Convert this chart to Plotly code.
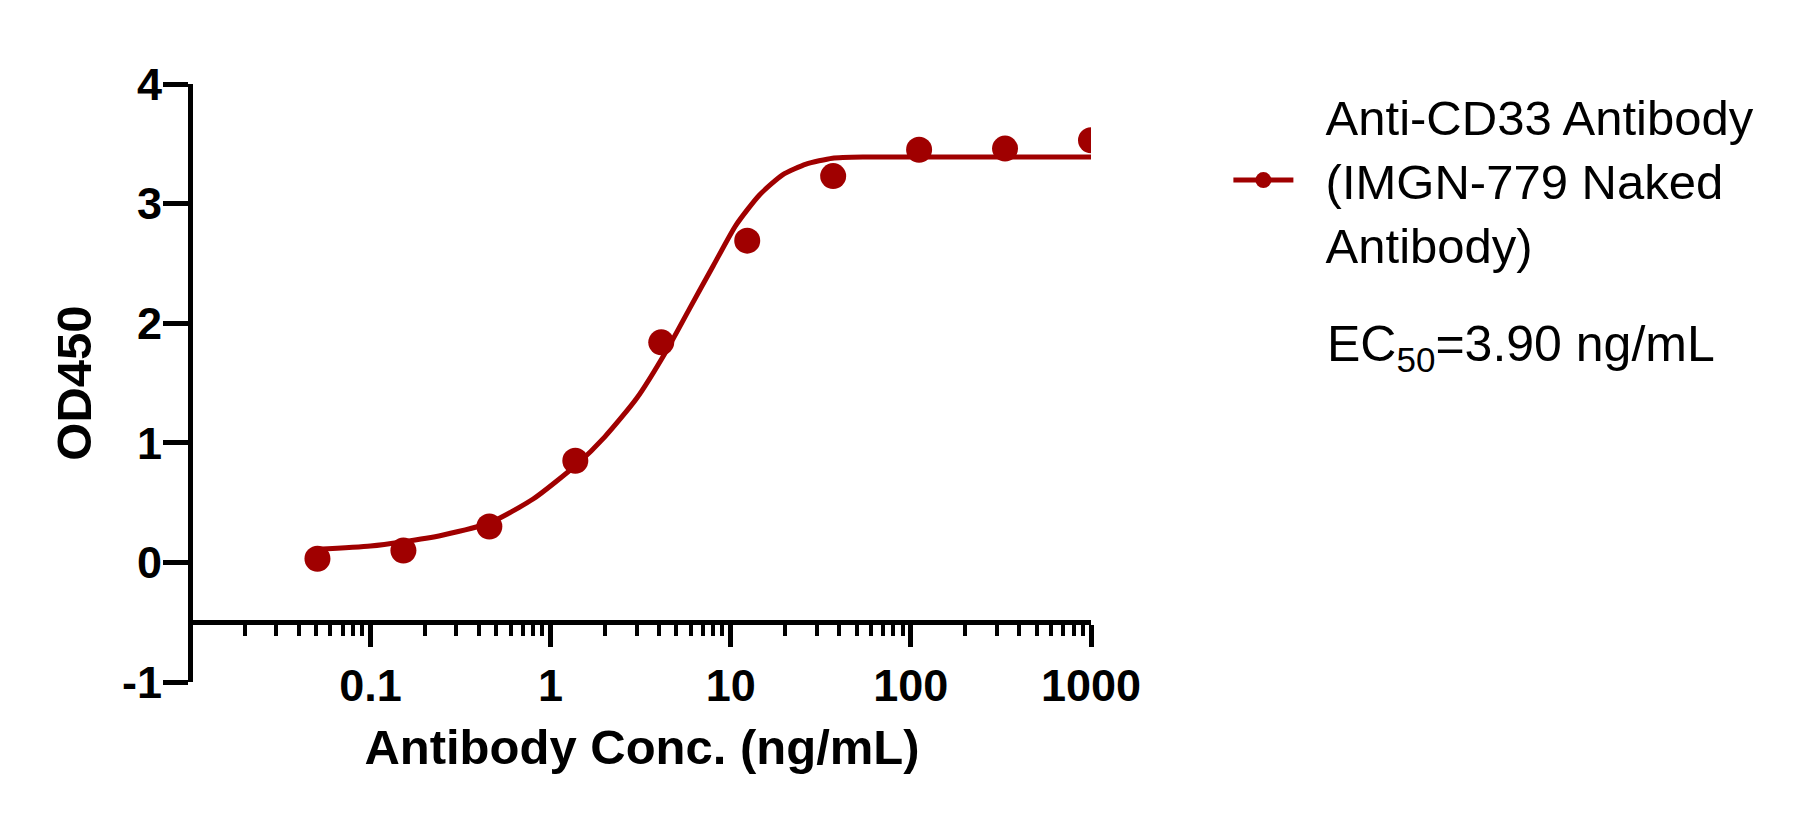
import plotly.graph_objects as go

# measured points (3-fold dilution series)
conc = [0.0508, 0.1524, 0.4572, 1.372, 4.115, 12.35, 37.04, 111.1, 333.3, 1000]
od450 = [0.03, 0.10, 0.30, 0.85, 1.84, 2.69, 3.23, 3.45, 3.46, 3.53]

# fitted curve
fit_conc = [0.0508, 0.1, 0.15, 0.25, 0.46, 0.8, 1.4, 2.0, 3.0, 4.4, 5.9, 8.0,
            10.7, 14.4, 19.4, 26.2, 36.7, 56, 100, 300, 1000]
fit_od = [0.109, 0.137, 0.171, 0.227, 0.332, 0.53, 0.82, 1.05, 1.37, 1.77, 2.12, 2.48,
          2.82, 3.07, 3.24, 3.33, 3.38, 3.39, 3.39, 3.39, 3.39]

x_tickvals = [0.1, 1, 10, 100, 1000]
x_ticktext = ["0.1", "1", "10", "100", "1000"]
y_tickvals = [-1, 0, 1, 2, 3, 4]
y_ticktext = ["-1", "0", "1", "2", "3", "4"]

series_lines = ["Anti-CD33 Antibody", "(IMGN-779 Naked", "Antibody)"]
ec50_text = "EC<sub>50</sub>=3.90 ng/mL"

RED = "#a00000"
FONT = "Liberation Sans"
PAD = "\u00a0\u00a0"  # small gap between legend symbol and text

fig = go.Figure()

fig.add_trace(go.Scatter(
    x=fit_conc, y=fit_od, mode="lines",
    line=dict(color=RED, width=5, shape="spline", smoothing=0.6),
    showlegend=False, hoverinfo="skip",
))
fig.add_trace(go.Scatter(
    x=conc, y=od450, mode="markers",
    marker=dict(color=RED, size=26),
    showlegend=False,
))
# legend entry only
fig.add_trace(go.Scatter(
    x=[None], y=[None], mode="lines+markers",
    name="<br>".join(PAD + s for s in series_lines),
    line=dict(color=RED, width=5),
    marker=dict(color=RED, size=26),
))

fig.add_annotation(
    text=ec50_text, xref="paper", yref="paper", x=1.261, y=0.56,
    xanchor="left", yanchor="middle", showarrow=False,
    font=dict(family=FONT, size=50, color="black"),
)

fig.update_layout(
    width=1803, height=822,
    margin=dict(l=185, r=720, t=76, b=148),
    plot_bgcolor="white", paper_bgcolor="white",
    font=dict(family=FONT, color="black"),
    legend=dict(
        x=1.153, y=1.01, xanchor="left", yanchor="top",
        font=dict(family=FONT, size=49, color="black"),
        itemwidth=60, bgcolor="rgba(0,0,0,0)",
    ),
    xaxis=dict(
        type="log", range=[-1.985, 3.0],
        anchor="free", position=0.1,
        tickmode="array", tickvals=x_tickvals, ticktext=x_ticktext,
        ticks="outside", ticklen=22, tickwidth=5, tickcolor="black",
        minor=dict(ticks="outside", ticklen=11, tickwidth=4, tickcolor="black", dtick="D1"),
        showline=True, linewidth=5, linecolor="black",
        showgrid=False, zeroline=False,
        tickfont=dict(family=FONT, size=45, weight="bold", color="black"),
        ticklabelstandoff=0,
        title=dict(text="Antibody Conc. (ng/mL)", standoff=19,
                   font=dict(family=FONT, size=49, weight="bold", color="black")),
    ),
    yaxis=dict(
        range=[-1, 4], tickmode="array", tickvals=y_tickvals, ticktext=y_ticktext,
        ticks="outside", ticklen=25, tickwidth=5, tickcolor="black",
        showline=True, linewidth=5, linecolor="black",
        showgrid=False, zeroline=False,
        tickfont=dict(family=FONT, size=45, weight="bold", color="black"),
        ticklabelstandoff=-8,
        title=dict(text="OD450", standoff=16,
                   font=dict(family=FONT, size=49, weight="bold", color="black")),
    ),
)

fig.write_html("out.html")
